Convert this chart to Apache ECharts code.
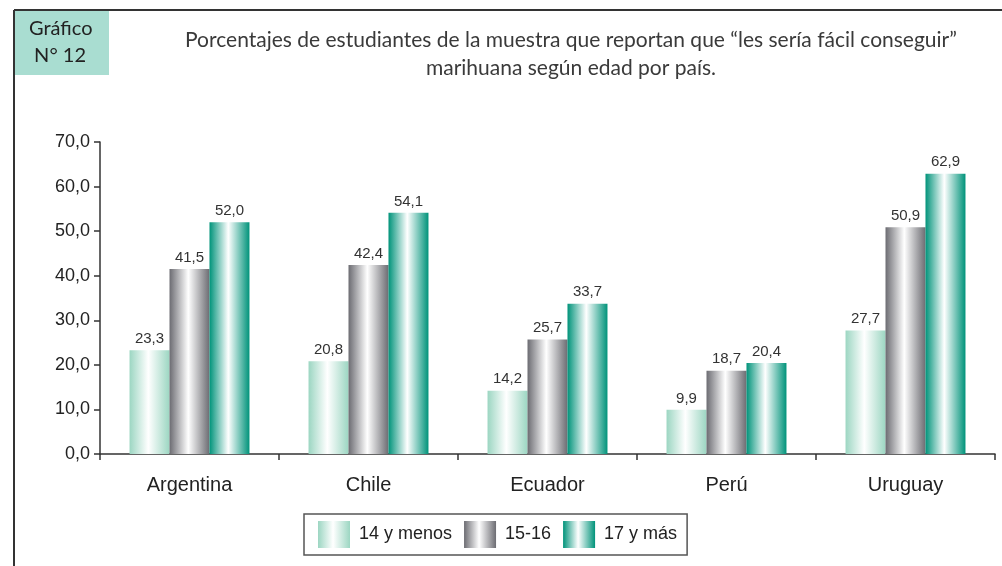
<!DOCTYPE html>
<html>
<head>
<meta charset="utf-8">
<script src="https://cdn.jsdelivr.net/npm/echarts@6/dist/echarts.min.js"></script>
<style>
  html, body { margin: 0; padding: 0; background: #fff; }
  #chart { width: 1002px; height: 566px; }
</style>
</head>
<body>
<div id="chart"></div>
<script>
// datos del gráfico
var paises = ['Argentina', 'Chile', 'Ecuador', 'Perú', 'Uruguay'];
var grupos = ['14 y menos', '15-16', '17 y más'];
var menos14 = [23.3, 20.8, 14.2, 9.9, 27.7];
var de15a16 = [41.5, 42.4, 25.7, 18.7, 50.9];
var mas17 = [52.0, 54.1, 33.7, 20.4, 62.9];
var ticksY = [0, 10, 20, 30, 40, 50, 60, 70];

function degradado(c) {
  return new echarts.graphic.LinearGradient(0, 0, 1, 0, [
    { offset: 0, color: c },
    { offset: 0.47, color: '#ffffff' },
    { offset: 1, color: c }
  ]);
}

function coma(v) {
  return v.toFixed(1).replace('.', ',');
}

var colores = ['#9cd6c2', '#6c6c72', '#00937a'];
var valores = [menos14, de15a16, mas17];

var chart = echarts.init(document.getElementById('chart'));

chart.setOption({
  animation: false,
  title: {
    text: 'Porcentajes de estudiantes de la muestra que reportan que “les sería fácil conseguir”\nmarihuana según edad por país.',
    left: 566,
    top: 21,
    textAlign: 'center',
    textStyle: {
      fontFamily: 'Lato, "Open Sans", sans-serif',
      fontWeight: 'normal',
      fontSize: 21,
      lineHeight: 28,
      color: '#3a3a3a'
    }
  },
  graphic: [
    { type: 'line', shape: { x1: 14, y1: 10, x2: 1002, y2: 10 }, style: { stroke: '#333', lineWidth: 2 } },
    { type: 'line', shape: { x1: 14, y1: 10, x2: 14, y2: 566 }, style: { stroke: '#333', lineWidth: 2 } },
    { type: 'rect', shape: { x: 15, y: 11, width: 94, height: 64 }, style: { fill: '#a9ddd1' } },
    {
      type: 'text', left: 29, top: 15,
      style: {
        text: 'Gráfico\n N° 12', fill: '#222', fontSize: 20, lineHeight: 27,
        fontFamily: 'Lato, "Open Sans", sans-serif'
      }
    }
  ],
  legend: {
    data: grupos,
    left: 304,
    top: 514,
    orient: 'horizontal',
    icon: 'rect',
    itemWidth: 32,
    itemHeight: 27,
    itemGap: 12,
    padding: [7, 10, 7, 14],
    borderColor: '#555',
    borderWidth: 1.5,
    textStyle: {
      fontFamily: 'Liberation Sans, Arial, sans-serif', fontSize: 18, color: '#222',
      padding: [0, 0, 0, 4]
    }
  },
  grid: { left: 100, right: 7, top: 142, bottom: 112 },
  xAxis: {
    type: 'category',
    data: paises,
    axisLine: { lineStyle: { color: '#333', width: 1.5 } },
    axisTick: { show: true, length: 6, lineStyle: { color: '#333', width: 1.5 } },
    axisLabel: { fontFamily: 'Liberation Sans, Arial, sans-serif', fontSize: 20, color: '#222', margin: 21 }
  },
  yAxis: {
    type: 'value',
    min: ticksY[0],
    max: ticksY[ticksY.length - 1],
    interval: 10,
    axisLine: { show: true, lineStyle: { color: '#333', width: 1.5 } },
    axisTick: { show: true, length: 6, lineStyle: { color: '#333', width: 1.5 } },
    splitLine: { show: false },
    axisLabel: {
      fontFamily: 'Liberation Sans, Arial, sans-serif', fontSize: 18, color: '#222', margin: 10,
      formatter: function (v) { return coma(v); }
    }
  },
  series: grupos.map(function (g, i) {
    return {
      name: g,
      type: 'bar',
      data: valores[i],
      barGap: '0%',
      barCategoryGap: '33%',
      itemStyle: { color: degradado(colores[i]) },
      label: {
        show: true,
        position: 'top',
        distance: 4,
        fontFamily: '"Liberation Sans Narrow", "Liberation Sans", Arial, sans-serif',
        fontSize: 15,
        color: '#333',
        formatter: function (p) { return coma(p.value); }
      }
    };
  })
});

window.onresize = chart.resize;
</script>
</body>
</html>
